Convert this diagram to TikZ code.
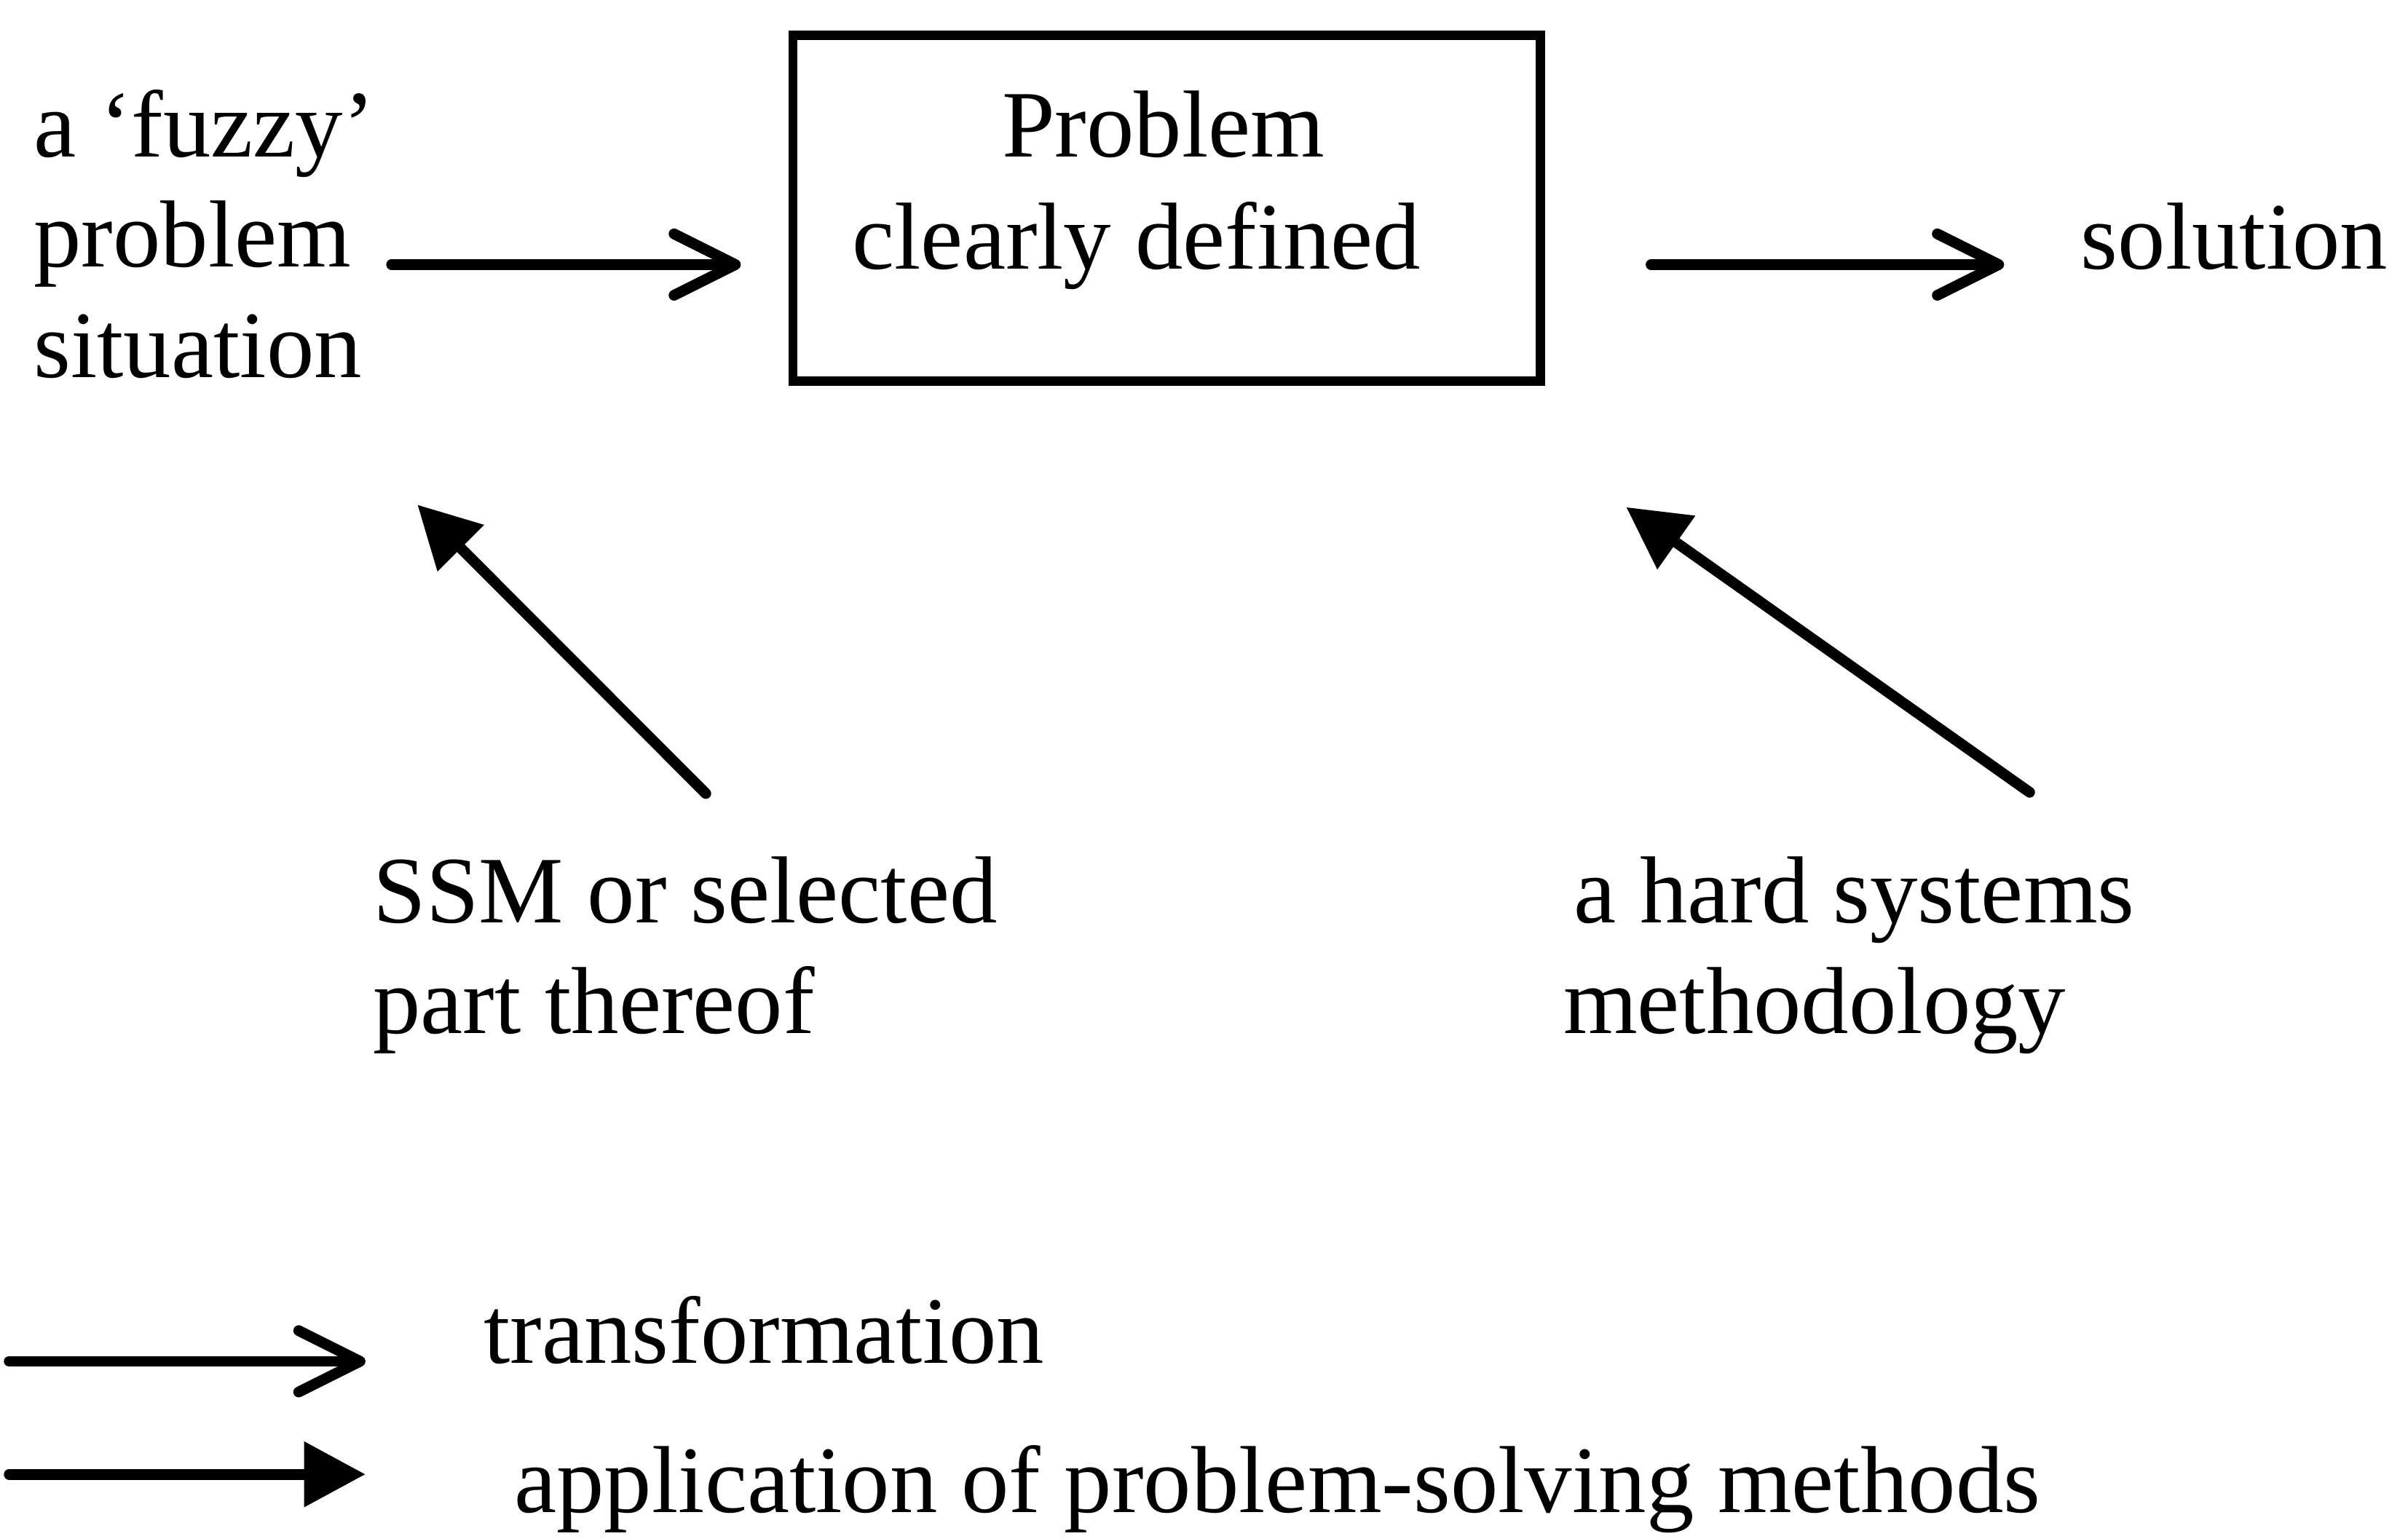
\documentclass[tikz,border=0pt]{standalone}
\usepackage{fontspec}
\setmainfont{Liberation Serif}
\usetikzlibrary{arrows.meta}
\begin{document}
\begin{tikzpicture}[x=0.5pt,y=-0.5pt,
  txt/.style={inner sep=0pt, outer sep=0pt, font=\fontsize{31}{36}\selectfont},
  frame/.style={draw, line width=3pt, inner sep=0pt, outer sep=0pt},
  transform/.style={line width=3.5pt, line cap=round,
    -{Straight Barb[length=20pt,width=20pt,line cap=round,line join=round]}},
  apply/.style={line width=3.5pt, line cap=round,
    -{Triangle[length=20pt,width=20.5pt]}},
]
% page area
\fill[white] (0,0) rectangle (1568,1002);
\useasboundingbox (0,0) rectangle (1568,1002);

% top row (multi-line nodes sit on the baseline of their last line)
\node[txt, align=left, anchor=base west] (fuzzy) at (22,246) {a `fuzzy'\\problem\\situation};
\node[frame, minimum width=243.35pt, minimum height=112.6pt] (box) at (759.75,135.6) {};
\node[txt, anchor=base] (probl) at (757.5,102) {Problem};
\node[txt, anchor=base west] (clear) at (555,175) {clearly defined};
\node[txt, anchor=base west] (sol) at (1355,175) {solution};

% methods
\node[txt, align=left, anchor=base west] (ssm) at (243,673) {SSM or selected\\part thereof};
\node[txt, align=left, anchor=base west] (hard) at (1018,673) {\hspace*{3.5pt}a hard systems\\methodology};

% key
\node[txt, anchor=base west] (ltrans) at (315,888) {transformation};
\node[txt, anchor=base west] (lapp) at (335,985) {application of problem-solving methods};

% transformations
\coordinate (row) at (0,172.3);
\draw[transform, shorten <=5.5pt, shorten >=17pt] (fuzzy.east |- row) -- (box.west |- row);
\draw[transform, shorten <=36pt, shorten >=25pt] (box.east |- row) -- (sol.west |- row);

% applications of methods
\coordinate (d1tail) at (459.6,516.8);
\coordinate (d1tip) at (271.8,328.7);
\coordinate (d2tail) at (1321.6,516);
\coordinate (d2tip) at (1058.9,330.3);
\draw[apply] (d1tail) -- (d1tip);
\draw[apply] (d2tail) -- (d2tip);

% key arrows
\coordinate (k1) at (6,886.6);
\coordinate (k2) at (6,960.2);
\draw[transform, shorten >=38.5pt] (k1) -- (ltrans.west |- k1);
\draw[apply, shorten >=48.5pt] (k2) -- (lapp.west |- k2);
\end{tikzpicture}
\end{document}
